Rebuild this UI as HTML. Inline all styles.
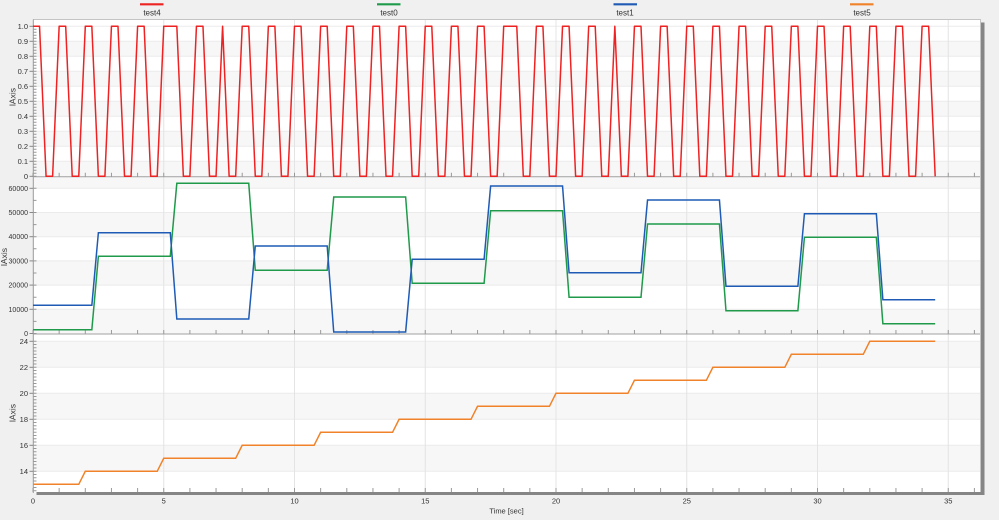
<!DOCTYPE html>
<html><head><meta charset="utf-8"><style>
html,body{margin:0;padding:0;background:#f0f0f0;}
svg{display:block;}
text{font-family:"Liberation Sans",sans-serif;fill:#333;}
</style></head><body>
<svg width="999" height="520" viewBox="0 0 999 520" xmlns="http://www.w3.org/2000/svg">
<rect width="999" height="520" fill="#f0f0f0"/>
<rect x="33" y="19.5" width="947.5" height="473" fill="#fff"/>
<g fill="#f7f7f7">
<rect x="33.5" y="41.3" width="947" height="15"/>
<rect x="33.5" y="71.3" width="947" height="15"/>
<rect x="33.5" y="101.3" width="947" height="15"/>
<rect x="33.5" y="131.3" width="947" height="15"/>
<rect x="33.5" y="161.3" width="947" height="15"/>
<rect x="33.5" y="177.3" width="947" height="11"/>
<rect x="33.5" y="212.5" width="947" height="24.2"/>
<rect x="33.5" y="260.9" width="947" height="24.2"/>
<rect x="33.5" y="309.3" width="947" height="24.2"/>
<rect x="33.5" y="341.3" width="947" height="26"/>
<rect x="33.5" y="393.3" width="947" height="26"/>
<rect x="33.5" y="445.3" width="947" height="26"/>
</g>
<g stroke="#ebebeb" stroke-width="1">
<line x1="33" y1="26.3" x2="980" y2="26.3"/><line x1="33" y1="41.3" x2="980" y2="41.3"/>
<line x1="33" y1="56.3" x2="980" y2="56.3"/><line x1="33" y1="71.3" x2="980" y2="71.3"/>
<line x1="33" y1="86.3" x2="980" y2="86.3"/><line x1="33" y1="101.3" x2="980" y2="101.3"/>
<line x1="33" y1="116.3" x2="980" y2="116.3"/><line x1="33" y1="131.3" x2="980" y2="131.3"/>
<line x1="33" y1="146.3" x2="980" y2="146.3"/><line x1="33" y1="161.3" x2="980" y2="161.3"/>
<line x1="33" y1="188.3" x2="980" y2="188.3"/><line x1="33" y1="212.5" x2="980" y2="212.5"/>
<line x1="33" y1="236.7" x2="980" y2="236.7"/><line x1="33" y1="260.9" x2="980" y2="260.9"/>
<line x1="33" y1="285.1" x2="980" y2="285.1"/><line x1="33" y1="309.3" x2="980" y2="309.3"/>
<line x1="33" y1="341.3" x2="980" y2="341.3"/><line x1="33" y1="367.3" x2="980" y2="367.3"/>
<line x1="33" y1="393.3" x2="980" y2="393.3"/><line x1="33" y1="419.3" x2="980" y2="419.3"/>
<line x1="33" y1="445.3" x2="980" y2="445.3"/><line x1="33" y1="471.3" x2="980" y2="471.3"/>
</g>
<g stroke="#e4e4e4" stroke-width="1">
<line x1="163.75" y1="19.5" x2="163.75" y2="492"/><line x1="294.5" y1="19.5" x2="294.5" y2="492"/>
<line x1="425.25" y1="19.5" x2="425.25" y2="492"/><line x1="556" y1="19.5" x2="556" y2="492"/>
<line x1="686.75" y1="19.5" x2="686.75" y2="492"/><line x1="817.5" y1="19.5" x2="817.5" y2="492"/>
<line x1="948.25" y1="19.5" x2="948.25" y2="492"/>
</g>
<!-- frame -->
<line x1="33" y1="19.5" x2="981" y2="19.5" stroke="#c4c4c4"/>
<line x1="980.5" y1="19.5" x2="980.5" y2="492" stroke="#c4c4c4"/>
<line x1="33.3" y1="19.5" x2="33.3" y2="493" stroke="#9a9a9a"/>
<line x1="33" y1="176.8" x2="980" y2="176.8" stroke="#a0a0a0"/>
<line x1="33" y1="334" x2="980" y2="334" stroke="#a0a0a0"/>
<!-- x minor ticks -->
<g stroke="#999" stroke-width="4" stroke-dasharray="1 25.15">
<line x1="32.5" y1="174.8" x2="981" y2="174.8"/>
<line x1="32.5" y1="332" x2="981" y2="332"/>
<line x1="32.5" y1="490" x2="981" y2="490"/>
</g>
<!-- y minor ticks -->
<g stroke="#999" stroke-width="3">
<line x1="35" y1="25.8" x2="35" y2="177" stroke-dasharray="1 2"/>
<line x1="35" y1="187.8" x2="35" y2="334" stroke-dasharray="1 11.1"/>
<line x1="35" y1="340.8" x2="35" y2="492" stroke-dasharray="1 2.25"/>
</g>
<!-- y major ticks -->
<g stroke="#888" stroke-width="1">
<line x1="29.5" y1="26.3" x2="33" y2="26.3"/><line x1="29.5" y1="41.3" x2="33" y2="41.3"/>
<line x1="29.5" y1="56.3" x2="33" y2="56.3"/><line x1="29.5" y1="71.3" x2="33" y2="71.3"/>
<line x1="29.5" y1="86.3" x2="33" y2="86.3"/><line x1="29.5" y1="101.3" x2="33" y2="101.3"/>
<line x1="29.5" y1="116.3" x2="33" y2="116.3"/><line x1="29.5" y1="131.3" x2="33" y2="131.3"/>
<line x1="29.5" y1="146.3" x2="33" y2="146.3"/><line x1="29.5" y1="161.3" x2="33" y2="161.3"/>
<line x1="29.5" y1="176.3" x2="33" y2="176.3"/>
<line x1="29.5" y1="188.3" x2="33" y2="188.3"/><line x1="29.5" y1="212.5" x2="33" y2="212.5"/>
<line x1="29.5" y1="236.7" x2="33" y2="236.7"/><line x1="29.5" y1="260.9" x2="33" y2="260.9"/>
<line x1="29.5" y1="285.1" x2="33" y2="285.1"/><line x1="29.5" y1="309.3" x2="33" y2="309.3"/>
<line x1="29.5" y1="333.5" x2="33" y2="333.5"/>
<line x1="29.5" y1="341.3" x2="33" y2="341.3"/><line x1="29.5" y1="367.3" x2="33" y2="367.3"/>
<line x1="29.5" y1="393.3" x2="33" y2="393.3"/><line x1="29.5" y1="419.3" x2="33" y2="419.3"/>
<line x1="29.5" y1="445.3" x2="33" y2="445.3"/><line x1="29.5" y1="471.3" x2="33" y2="471.3"/>
</g>
<!-- y labels -->
<g font-size="7.5" text-anchor="end">
<text x="28" y="29">1.0</text><text x="28" y="44">0.9</text><text x="28" y="59">0.8</text>
<text x="28" y="74">0.7</text><text x="28" y="89">0.6</text><text x="28" y="104">0.5</text>
<text x="28" y="119">0.4</text><text x="28" y="134">0.3</text><text x="28" y="149">0.2</text>
<text x="28" y="164">0.1</text><text x="28" y="179">0</text>
<text x="28" y="344">24</text><text x="28" y="370">22</text><text x="28" y="396">20</text>
<text x="28" y="422">18</text><text x="28" y="448">16</text><text x="28" y="474">14</text>
</g>
<g font-size="7" text-anchor="end">
<text x="28" y="190.8">60000</text><text x="28" y="215">50000</text><text x="28" y="239.2">40000</text>
<text x="28" y="263.4">30000</text><text x="28" y="287.6">20000</text><text x="28" y="311.8">10000</text>
<text x="28" y="336">0</text>
</g>
<g font-size="8.5" text-anchor="middle">
<text transform="translate(15.3 97) rotate(-90)">lAxis</text>
<text transform="translate(7 257) rotate(-90)">lAxis</text>
<text transform="translate(15.3 413) rotate(-90)">lAxis</text>
</g>
<!-- series -->
<polyline fill="none" stroke="#ee2222" stroke-width="1.5" vector-effect="non-scaling-stroke" stroke-linejoin="round" transform="translate(33 176.3) scale(6.5375 -150)" points="0,1 1,1 2,0 3,0 4,1 5,1 6,0 7,0 8,1 9,1 10,0 11,0 12,1 13,1 14,0 15,0 16,1 17,1 18,0 19,0 20,1 22,1 23,0 24,0 25,1 26,1 27,0 28,0 29,1 30,0 31,0 32,1 33,1 34,0 35,0 36,1 37,1 38,0 39,0 40,1 41,1 42,0 43,0 44,1 45,1 46,0 47,0 48,1 49,1 50,0 51,0 52,1 53,1 54,0 55,0 56,1 57,1 58,0 59,0 60,1 61,1 62,0 63,0 64,1 65,1 66,0 67,0 68,1 69,1 70,0 71,0 72,1 74,1 75,0 76,0 77,1 78,1 79,0 80,0 81,1 82,1 83,0 84,0 85,1 86,1 87,0 88,0 89,1 90,0 91,0 92,1 93,1 94,0 95,0 96,1 97,1 98,0 99,0 100,1 101,1 102,0 103,0 104,1 105,1 106,0 107,0 108,1 109,1 110,0 111,0 112,1 113,1 114,0 115,0 116,1 117,1 118,0 119,0 120,1 121,1 122,0 123,0 124,1 125,1 126,0 127,0 128,1 129,1 130,0 131,0 132,1 133,1 134,0 135,0 136,1 137,1 138,0"/>
<polyline fill="none" stroke="#1f9a4a" stroke-width="1.5" vector-effect="non-scaling-stroke" transform="translate(33 0) scale(6.5375 1)" points="0,329.7 9,329.7 10,256.3 21,256.3 22,183.3 33,183.3 34,270.3 45,270.3 46,197 57,197 58,283.3 69,283.3 70,210.7 81,210.7 82,297.3 93,297.3 94,224 105,224 106,310.7 117,310.7 118,237.3 129,237.3 130,323.7 138,323.7"/>
<polyline fill="none" stroke="#1f5bb5" stroke-width="1.5" vector-effect="non-scaling-stroke" transform="translate(33 0) scale(6.5375 1)" points="0,305.3 9,305.3 10,232.7 21,232.7 22,319 33,319 34,246 45,246 46,332 57,332 58,259.3 69,259.3 70,186 81,186 82,272.7 93,272.7 94,200 105,200 106,286.3 117,286.3 118,213.7 129,213.7 130,299.7 138,299.7"/>
<polyline fill="none" stroke="#f0822a" stroke-width="1.5" vector-effect="non-scaling-stroke" transform="translate(33 0) scale(6.5375 1)" points="0,484.3 7,484.3 8,471.3 19,471.3 20,458.3 31,458.3 32,445.3 43,445.3 44,432.3 55,432.3 56,419.3 67,419.3 68,406.3 79,406.3 80,393.3 91,393.3 92,380.3 103,380.3 104,367.3 115,367.3 116,354.3 127,354.3 128,341.3 138,341.3"/>
<!-- shadow bars -->
<rect x="36.5" y="492" width="948" height="3" fill="#858585"/>
<rect x="981" y="22.5" width="3.5" height="472.5" fill="#858585"/>
<!-- x labels -->
<g font-size="7.5" text-anchor="middle">
<text x="33" y="503.5">0</text><text x="163.75" y="503.5">5</text><text x="294.5" y="503.5">10</text>
<text x="425.25" y="503.5">15</text><text x="556" y="503.5">20</text><text x="686.75" y="503.5">25</text>
<text x="817.5" y="503.5">30</text><text x="948.25" y="503.5">35</text>
<text x="506.5" y="513.3">Time [sec]</text>
</g>
<!-- legend -->
<g stroke-width="2.2">
<line x1="140" y1="4.3" x2="163.5" y2="4.3" stroke="#ee2222"/>
<line x1="377" y1="4.3" x2="400.5" y2="4.3" stroke="#1f9a4a"/>
<line x1="613.5" y1="4.3" x2="637" y2="4.3" stroke="#1f5bb5"/>
<line x1="850" y1="4.3" x2="873.5" y2="4.3" stroke="#f0822a"/>
</g>
<g font-size="8" text-anchor="middle">
<text x="152" y="15.5">test4</text>
<text x="389" y="15.5">test0</text>
<text x="625" y="15.5">test1</text>
<text x="862" y="15.5">test5</text>
</g>
</svg>
</body></html>
